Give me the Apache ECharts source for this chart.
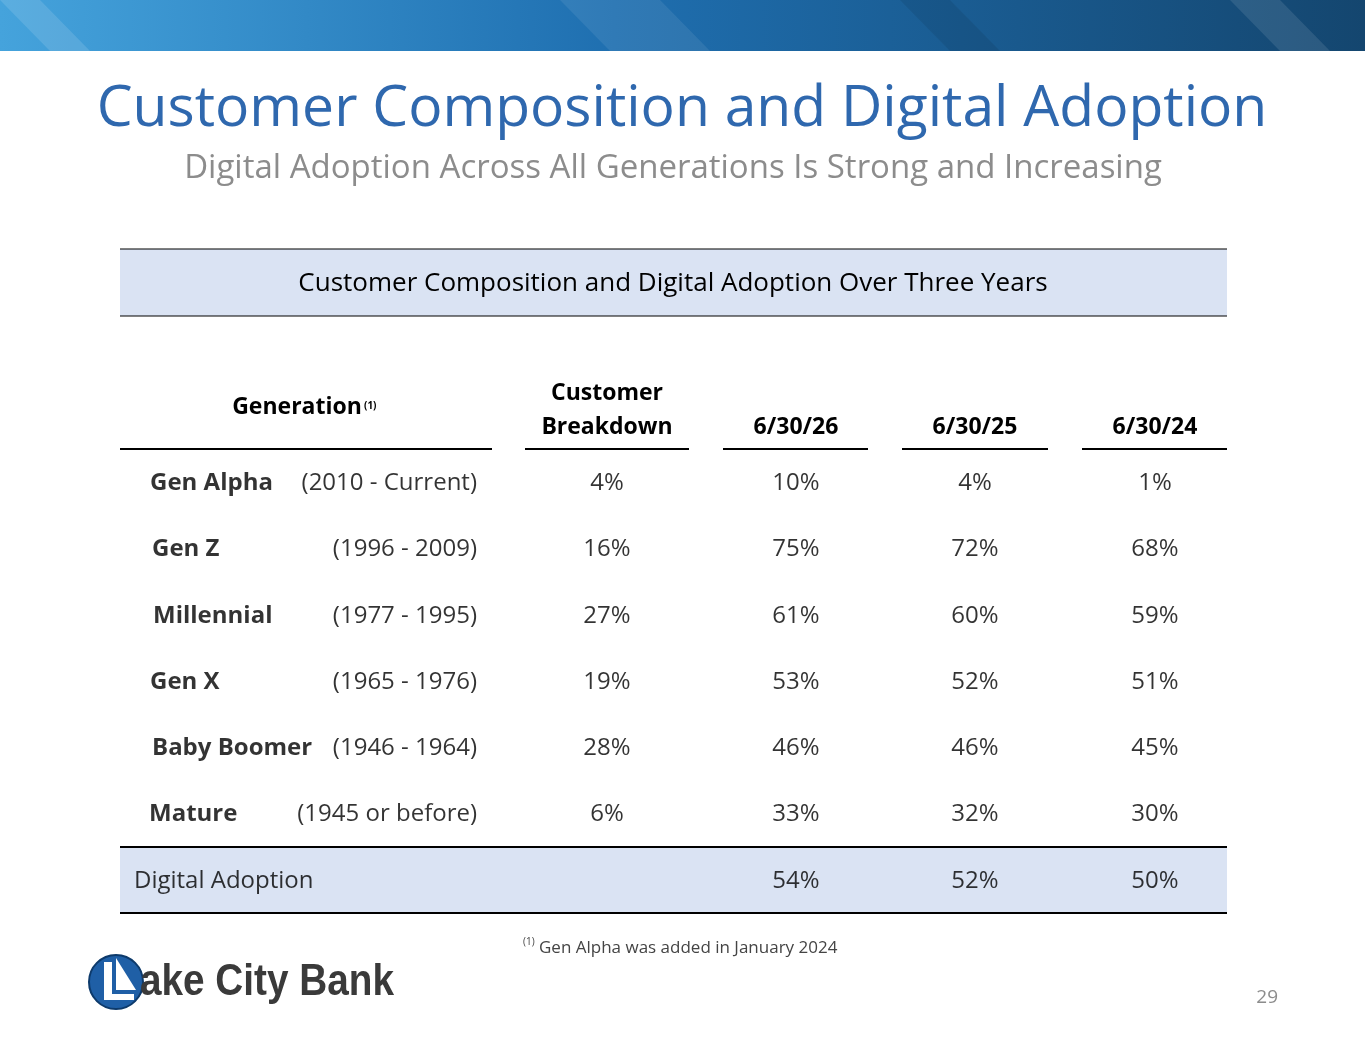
<!DOCTYPE html>
<html><head><meta charset="utf-8">
<script src="https://cdn.jsdelivr.net/npm/echarts@6/dist/echarts.min.js"></script>
<style>html,body{margin:0;padding:0;background:#fff}#c{width:1365px;height:1047px}</style>
</head><body><div id="c"></div>
<script>
const generations = ['Gen Alpha','Gen Z','Millennial','Gen X','Baby Boomer','Mature'];
const years = ['(2010 - Current)','(1996 - 2009)','(1977 - 1995)','(1965 - 1976)','(1946 - 1964)','(1945 or before)'];
const breakdown = ['4%','16%','27%','19%','28%','6%'];
const d26 = ['10%','75%','61%','53%','46%','33%'];
const d25 = ['4%','72%','60%','52%','46%','32%'];
const d24 = ['1%','68%','59%','51%','45%','30%'];
const adoptionLabel = 'Digital Adoption';
const adoption = ['54%','52%','50%'];
const colHeaders = ['Customer\nBreakdown','6/30/26','6/30/25','6/30/24'];

const colX = {name:150, years:477, bd:607, c26:796, c25:975, c24:1155};
const nameOffset = [0,2,3,0,2,-1];
const rows = generations.concat([adoptionLabel]);
const F = "'Open Sans', 'Noto Sans', sans-serif";

function colSeries(x, vals, align, bold){
  return {type:'scatter', symbolSize:0, silent:true,
    data: vals.map((v,i)=>({value:[x + (align==='left'&&bold?nameOffset[i]:0), rows[i]], label:{formatter:v}})),
    label:{show:true, position:'inside', align:align, color:'#000', fontSize:24, fontFamily:F, fontWeight:bold?'bold':'normal'}};
}

const chart = echarts.init(document.getElementById('c'));
const line = (x1,y1,x2,y2,w)=>({type:'line',shape:{x1,y1,x2,y2},style:{stroke:'#000',lineWidth:w||1.5}});
const graphic = [
  {type:'rect',shape:{x:0,y:0,width:1365,height:51},style:{fill:new echarts.graphic.LinearGradient(0,0,1,0,[{offset:0,color:'#45a3dc'},{offset:0.45,color:'#1f6fb0'},{offset:1,color:'#14466f'}])}},
  {type:'polygon',shape:{points:[[0,0],[40,0],[90,51],[50,51]]},style:{fill:'rgba(255,255,255,0.12)'}},
  {type:'polygon',shape:{points:[[560,0],[660,0],[710,51],[610,51]]},style:{fill:'rgba(255,255,255,0.08)'}},
  {type:'polygon',shape:{points:[[900,0],[950,0],[1000,51],[950,51]]},style:{fill:'rgba(0,0,0,0.08)'}},
  {type:'polygon',shape:{points:[[1230,0],[1280,0],[1330,51],[1280,51]]},style:{fill:'rgba(255,255,255,0.1)'}},
  {type:'text',x:682,y:110,style:{text:'Customer Composition and Digital Adoption',fill:'#2f68ae',font:'57px '+F,textAlign:'center',textVerticalAlign:'middle'}},
  {type:'text',x:673,y:169,style:{text:'Digital Adoption Across All Generations Is Strong and Increasing',fill:'#8c8c8c',font:'33px '+F,textAlign:'center',textVerticalAlign:'middle'}},
  {type:'rect',shape:{x:120,y:249,width:1107,height:67},style:{fill:'#dae3f3'}},
  line(120,249,1227,249,1.2), line(120,316,1227,316,1.2),
  {type:'text',x:673,y:284,style:{text:'Customer Composition and Digital Adoption Over Three Years',fill:'#000',font:'26px '+F,textAlign:'center',textVerticalAlign:'middle'}},
  {type:'text',x:297,y:407,style:{text:'Generation',fill:'#000',font:'bold 23px '+F,textAlign:'center',textVerticalAlign:'middle'}},
  {type:'text',x:364,y:406,style:{text:'(1)',fill:'#000',font:'bold 10px '+F,textVerticalAlign:'middle'}},
  {type:'text',x:607,y:393,style:{text:'Customer',fill:'#000',font:'bold 23px '+F,textAlign:'center',textVerticalAlign:'middle'}},
  {type:'text',x:607,y:427,style:{text:'Breakdown',fill:'#000',font:'bold 23px '+F,textAlign:'center',textVerticalAlign:'middle'}},
  {type:'text',x:796,y:427,style:{text:colHeaders[1],fill:'#000',font:'bold 23px '+F,textAlign:'center',textVerticalAlign:'middle'}},
  {type:'text',x:975,y:427,style:{text:colHeaders[2],fill:'#000',font:'bold 23px '+F,textAlign:'center',textVerticalAlign:'middle'}},
  {type:'text',x:1155,y:427,style:{text:colHeaders[3],fill:'#000',font:'bold 23px '+F,textAlign:'center',textVerticalAlign:'middle'}},
  line(120,449,492,449,2), line(525,449,689,449,2), line(723,449,868,449,2), line(902,449,1048,449,2), line(1082,449,1227,449,2),
  {type:'rect',shape:{x:120,y:847,width:1107,height:66},style:{fill:'#dae3f3'},z:-1},
  line(120,847,1227,847,2), line(120,913,1227,913,2),
  {type:'text',x:523,y:942,style:{text:'(1)',fill:'#444',font:'10px '+F,textVerticalAlign:'middle'}},
  {type:'text',x:539,y:948,style:{text:'Gen Alpha was added in January 2024',fill:'#444',font:'17px '+F,textVerticalAlign:'middle'}},
  {type:'text',x:1278,y:998,style:{text:'29',fill:'#8c8c8c',font:'19px '+F,textAlign:'right',textVerticalAlign:'middle'}},
  {type:'circle',shape:{cx:116,cy:982,r:27},style:{fill:'#1f5fa6',stroke:'#0d3a6b',lineWidth:2}},
  {type:'polygon',shape:{points:[[104,962],[112,962],[112,994],[134,994],[134,1000],[104,1000]]},style:{fill:'#fff'}},
  {type:'polygon',shape:{points:[[116,958],[136,990],[116,990]]},style:{fill:'#fff'}},
  {type:'text',x:140,y:983,scaleX:0.88,style:{text:'ake City Bank',fill:'#3a3a3a',font:'bold 44px "Liberation Sans Narrow", "Liberation Sans", sans-serif',textVerticalAlign:'middle'}}
];
chart.setOption({
  animation:false,
  grid:{left:0,right:0,top:450,height:464},
  xAxis:{type:'value',min:0,max:1365,show:false},
  yAxis:{type:'category',data:rows,inverse:true,show:false},
  graphic:graphic,
  series:[
    colSeries(colX.name, generations, 'left', true),
    colSeries(colX.years, years, 'right', false),
    colSeries(colX.bd, breakdown, 'center', false),
    colSeries(colX.c26, d26.concat([adoption[0]]), 'center', false),
    colSeries(colX.c25, d25.concat([adoption[1]]), 'center', false),
    colSeries(colX.c24, d24.concat([adoption[2]]), 'center', false),
    {type:'scatter',symbolSize:0,silent:true,data:[{value:[134,adoptionLabel],label:{formatter:adoptionLabel}}],
     label:{show:true,position:'inside',align:'left',color:'#000',fontSize:24,fontFamily:F}}
  ]
});
</script></body></html>
